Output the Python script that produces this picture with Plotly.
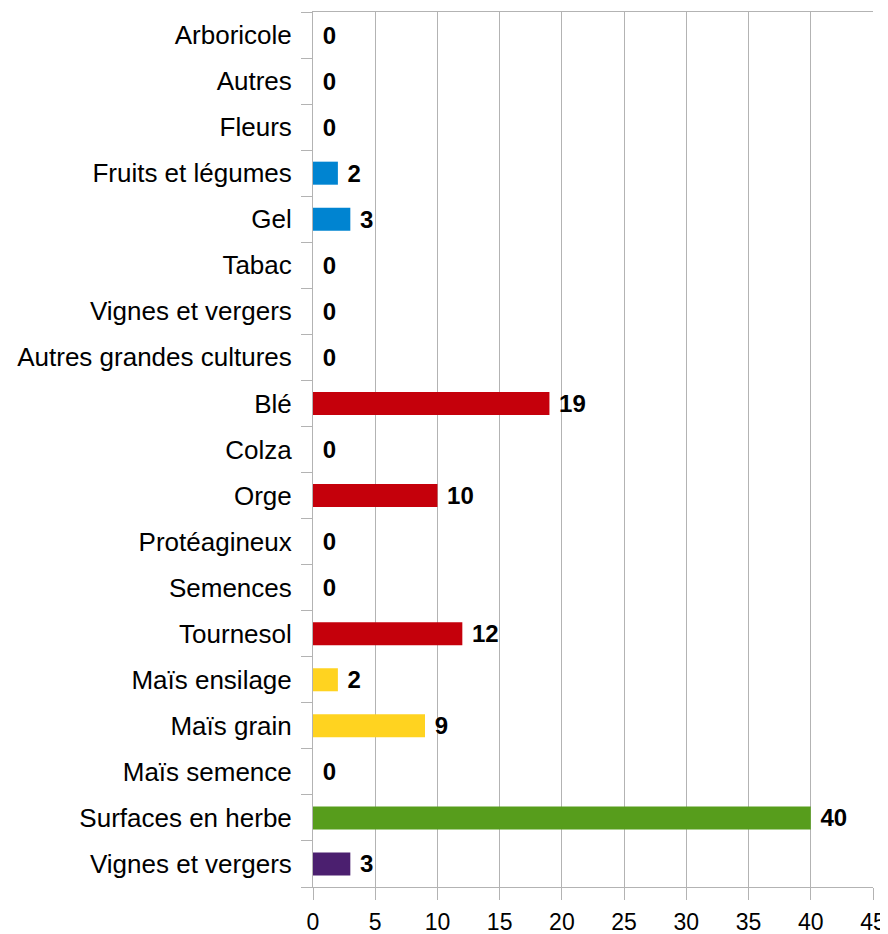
import plotly.graph_objects as go

# data
categories = ["Arboricole", "Autres", "Fleurs", "Fruits et légumes", "Gel", "Tabac",
              "Vignes et vergers", "Autres grandes cultures", "Blé", "Colza", "Orge",
              "Protéagineux", "Semences", "Tournesol", "Maïs ensilage", "Maïs grain",
              "Maïs semence", "Surfaces en herbe", "Vignes et vergers"]
values = [0, 0, 0, 2, 3, 0, 0, 0, 19, 0, 10, 0, 0, 12, 2, 9, 0, 40, 3]
groups = ["divers"] * 7 + ["grandes cultures"] * 7 + ["mais"] * 3 + ["herbe", "vignes"]

group_colors = {
    "divers": "#0084d1",
    "grandes cultures": "#c5000b",
    "mais": "#ffd320",
    "herbe": "#579d1c",
    "vignes": "#4b1f6f",
}

pos = list(range(len(categories)))
grid = "#b3b3b3"

fig = go.Figure(go.Bar(
    x=values, y=pos, orientation="h",
    marker=dict(color=[group_colors[g] for g in groups], line=dict(width=0)),
    texttemplate=" %{x}", textposition="outside", cliponaxis=False,
    constraintext="none",
    textfont=dict(family="Liberation Sans", size=24, color="#000000", weight="bold"),
    width=0.5,
))

# the page body adds an 8px offset, so the figure is 8px smaller than the window
fig.update_layout(
    width=880, height=926,
    margin=dict(l=305, r=15, t=4, b=47),
    plot_bgcolor="white", paper_bgcolor="white",
    showlegend=False,
    font=dict(family="Liberation Sans", size=26, color="#000000"),
)

# x axis
fig.update_xaxes(range=[0, 45], dtick=5, showgrid=True, gridcolor=grid, gridwidth=1,
                 showline=True, linecolor=grid, mirror=True, zeroline=False,
                 ticks="outside", ticklen=12, tickcolor=grid, automargin=False,
                 ticklabelstandoff=2, tickfont=dict(size=23))

# y axis
fig.update_yaxes(range=[len(categories) - 0.5, -0.5], tickmode="array",
                 tickvals=pos, ticktext=categories, ticks="", automargin=False,
                 showgrid=False, zeroline=False, showline=True, linecolor=grid,
                 ticklabelstandoff=15, tickfont=dict(size=26),
                 minor=dict(tickmode="array", tickvals=[p - 0.5 for p in range(len(categories) + 1)],
                            ticks="outside", ticklen=11, tickcolor=grid, showgrid=False))

fig.write_html("out.html")
